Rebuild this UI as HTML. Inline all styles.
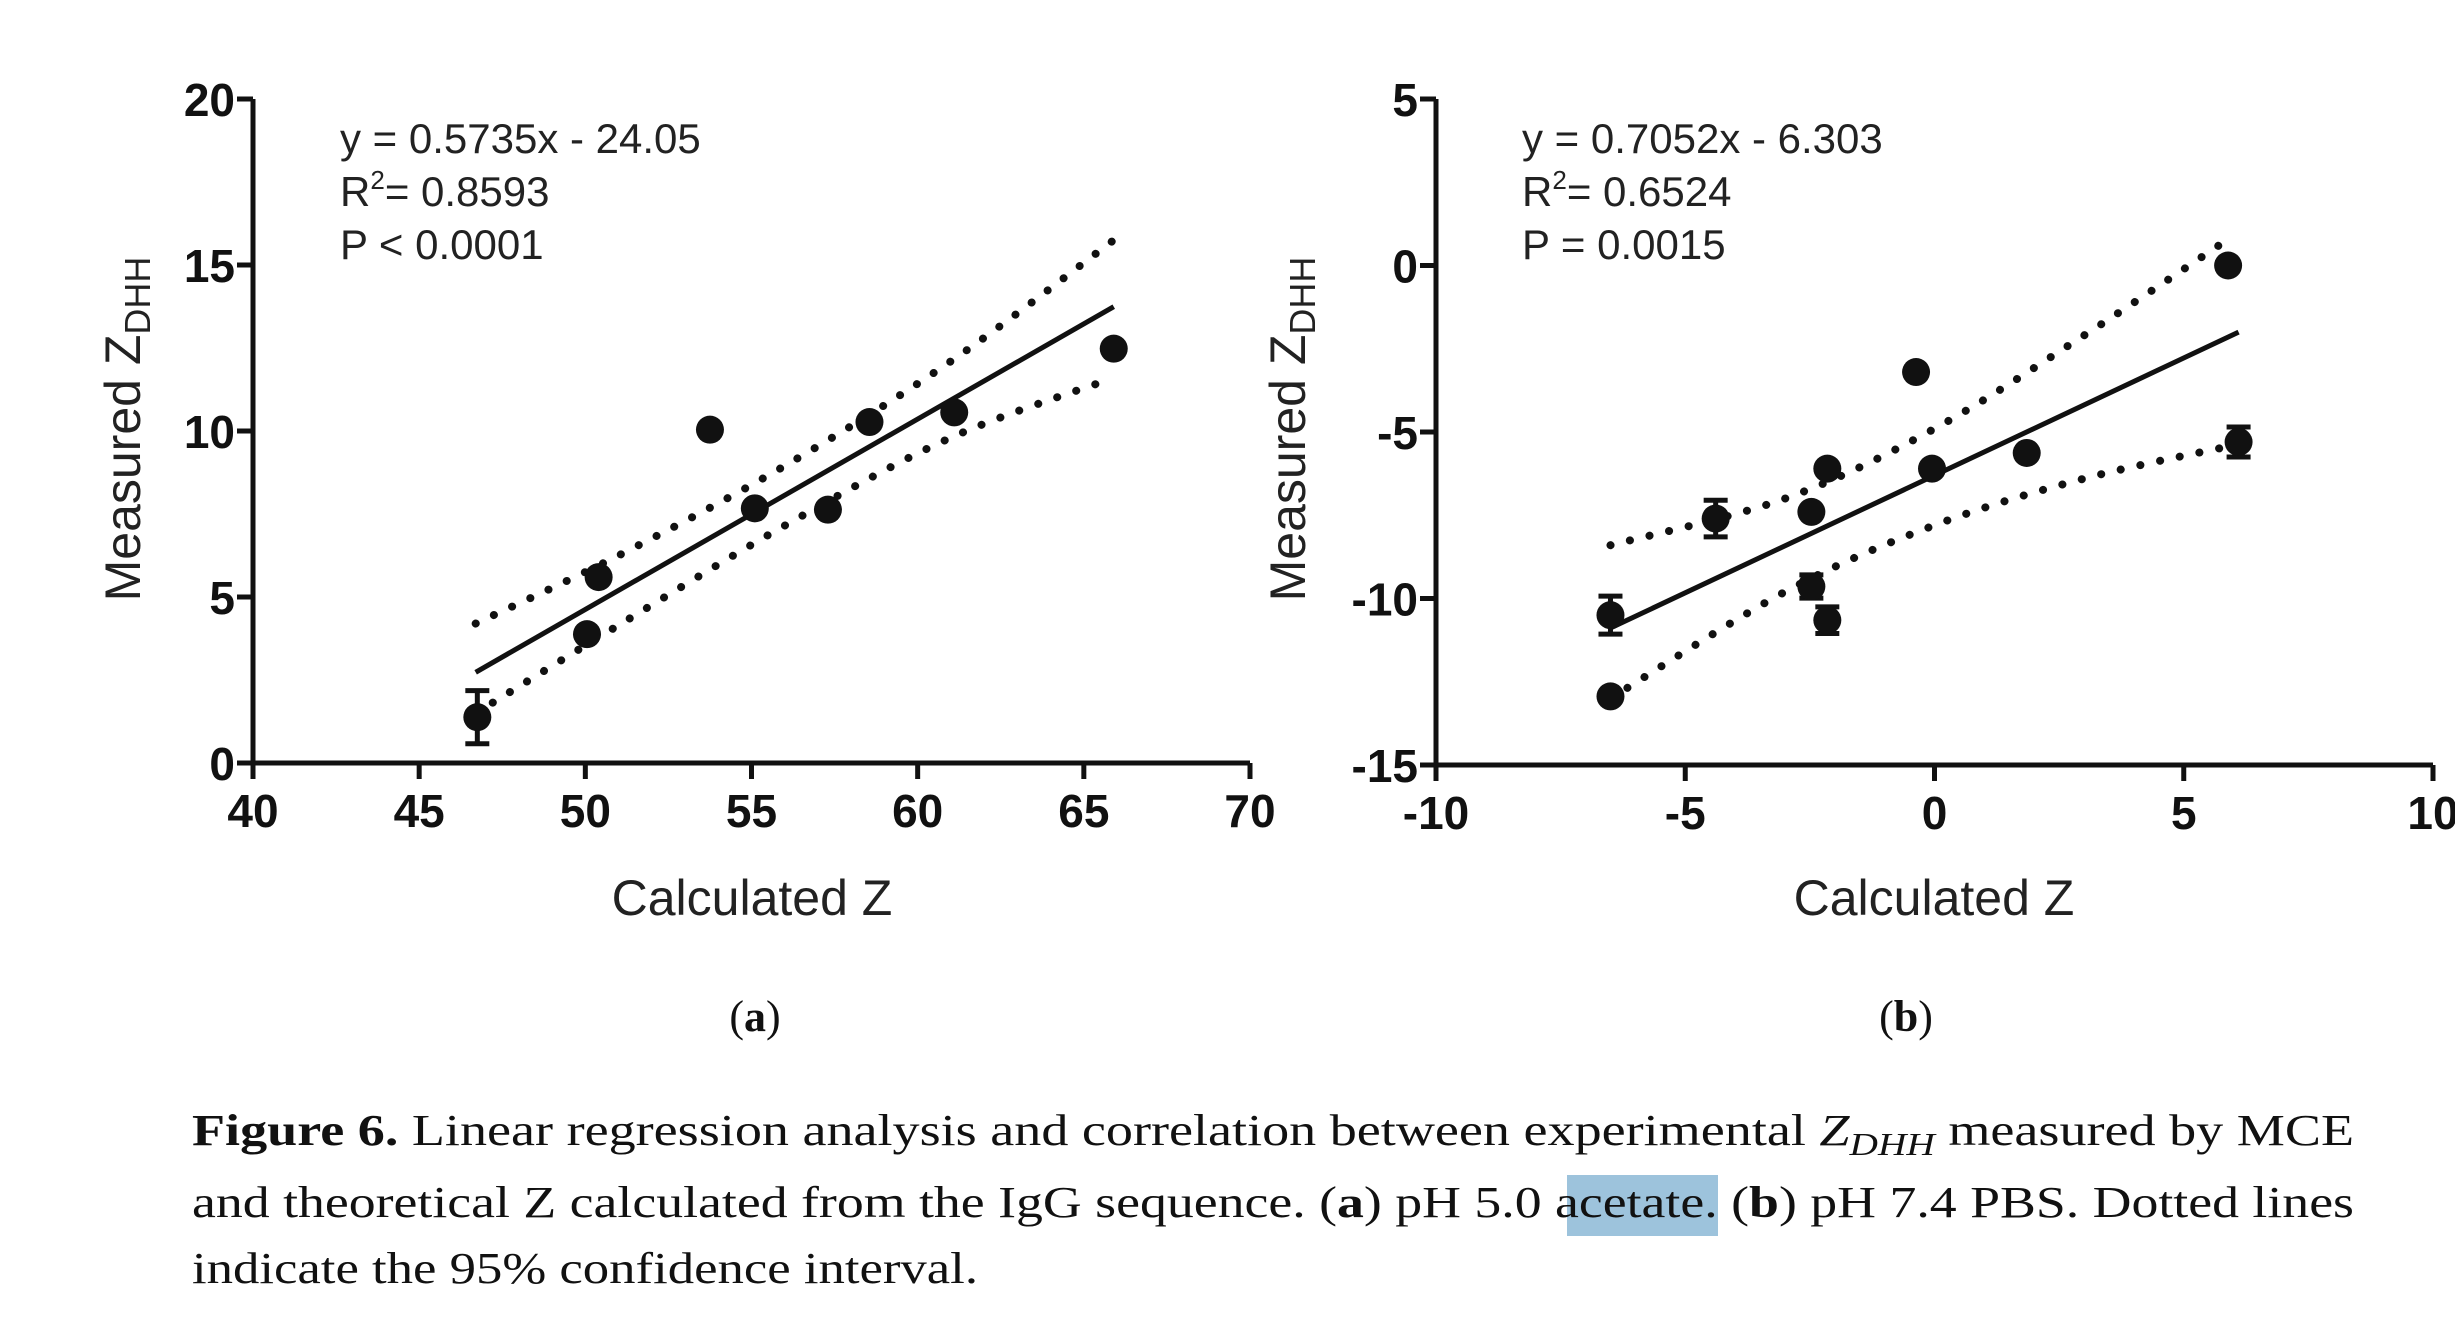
<!DOCTYPE html>
<html><head><meta charset="utf-8"><style>
html,body{margin:0;padding:0;background:#fff;}
svg{display:block;}
</style></head><body>
<svg id="fig" width="2455" height="1321" viewBox="0 0 2455 1321" xmlns="http://www.w3.org/2000/svg">
<g id="chartA"></g>
<g id="chartB"></g>
<g font-family="'Liberation Serif', serif" font-size="44" fill="#111">
  <text x="755" y="1031" text-anchor="middle">(<tspan font-weight="bold">a</tspan>)</text>
  <text x="1906" y="1031" text-anchor="middle">(<tspan font-weight="bold">b</tspan>)</text>
  <rect x="1567" y="1175" width="151" height="61" fill="#9dc3dc"/>
  <text x="192" y="1145" textLength="2162" lengthAdjust="spacingAndGlyphs"><tspan font-weight="bold">Figure 6.</tspan> Linear regression analysis and correlation between experimental <tspan font-style="italic">Z</tspan><tspan font-style="italic" font-size="32" dy="10">DHH</tspan><tspan dy="-10"> measured by MCE</tspan></text>
  <text x="192" y="1217" textLength="2162" lengthAdjust="spacingAndGlyphs">and theoretical Z calculated from the IgG sequence. (<tspan font-weight="bold">a</tspan>) pH 5.0 acetate. (<tspan font-weight="bold">b</tspan>) pH 7.4 PBS. Dotted lines</text>
  <text x="192" y="1283" textLength="786" lengthAdjust="spacingAndGlyphs">indicate the 95% confidence interval.</text>
</g>
</svg>
<script>
// ---- Chart A data ----
const aX = [46.75, 50.05, 50.4, 53.75, 55.1, 57.3, 58.55, 61.1, 65.9];
const aY = [1.38, 3.88, 5.6, 10.04, 7.67, 7.63, 10.27, 10.56, 12.48];
const aErr = [0.8, 0, 0, 0, 0, 0, 0, 0, 0];
const aFit = [0.5735, -24.05];
const aFitRange = [46.7, 65.9];
const aBandX = [46.7, 51, 56, 61, 65.9];
const aBandUpper = [4.2, 6.25, 8.95, 12.1, 15.75];
const aBandLower = [1.5, 4.15, 7.15, 9.8, 11.6];
const aXTicks = [40, 45, 50, 55, 60, 65, 70];
const aYTicks = [0, 5, 10, 15, 20];
const aStats = ["y = 0.5735x - 24.05", "= 0.8593", "P < 0.0001"];
// ---- Chart B data ----
const bX = [-6.5, -6.5, -4.39, -2.47, -2.47, -2.15, -2.15, -0.37, -0.05, 1.85, 5.89, 6.1];
const bY = [-10.5, -12.94, -7.6, -7.4, -9.64, -6.1, -10.65, -3.2, -6.1, -5.63, 0, -5.3];
const bErr = [0.57, 0, 0.55, 0, 0.35, 0, 0.4, 0, 0, 0, 0, 0.45];
const bFit = [0.7052, -6.303];
const bFitRange = [-6.5, 6.1];
const bBandX = [-6.5, -3, 0, 3, 6];
const bBandUpper = [-8.4, -7.0, -4.9, -2.1, 0.9];
const bBandLower = [-13.0, -9.8, -7.8, -6.4, -5.4];
const bXTicks = [-10, -5, 0, 5, 10];
const bYTicks = [-15, -10, -5, 0, 5];
const bStats = ["y = 0.7052x - 6.303", "= 0.6524", "P = 0.0015"];

const NS = "http://www.w3.org/2000/svg";
function mk(parent, tag, attrs) {
  const e = document.createElementNS(NS, tag);
  for (const k in attrs) e.setAttribute(k, attrs[k]);
  parent.appendChild(e);
  return e;
}
function smoothPath(pts) {
  let d = "M" + pts[0][0] + "," + pts[0][1];
  for (let i = 0; i < pts.length - 1; i++) {
    const p0 = pts[Math.max(0, i - 1)], p1 = pts[i], p2 = pts[i + 1], p3 = pts[Math.min(pts.length - 1, i + 2)];
    const c1 = [p1[0] + (p2[0] - p0[0]) / 6, p1[1] + (p2[1] - p0[1]) / 6];
    const c2 = [p2[0] - (p3[0] - p1[0]) / 6, p2[1] - (p3[1] - p1[1]) / 6];
    d += " C" + c1 + " " + c2 + " " + p2;
  }
  return d;
}
function drawChart(g, cfg) {
  const sx = v => cfg.x0 + (v - cfg.xMin) / (cfg.xMax - cfg.xMin) * (cfg.x1 - cfg.x0);
  const sy = v => cfg.y0 - (v - cfg.yMin) / (cfg.yMax - cfg.yMin) * (cfg.y0 - cfg.y1);
  const ax = mk(g, "path", {d: `M${cfg.x0},${cfg.y1} V${cfg.y0} H${cfg.x1}`, fill: "none", stroke: "#111", "stroke-width": 5});
  
  
  cfg.xTicks.forEach(t => {
    const l = mk(g, "line", {x1: sx(t), x2: sx(t), y1: cfg.y0, y2: cfg.y0 + 16, stroke: "#111", "stroke-width": 5});
    
    
    const tx = mk(g, "text", {x: sx(t), y: cfg.y0 + 64, "text-anchor": "middle", "font-family": "'Liberation Sans', sans-serif", "font-weight": "bold", "font-size": 46, fill: "#111"});
    tx.textContent = t;
    
    
  });
  cfg.yTicks.forEach(t => {
    const l = mk(g, "line", {x1: cfg.x0 - 16, x2: cfg.x0, y1: sy(t), y2: sy(t), stroke: "#111", "stroke-width": 5});
    
    
    const tx = mk(g, "text", {x: cfg.x0 - 18, y: sy(t) + 17, "text-anchor": "end", "font-family": "'Liberation Sans', sans-serif", "font-weight": "bold", "font-size": 46, fill: "#111"});
    tx.textContent = t;
    
    
  });
  const xt = mk(g, "text", {x: cfg.xTitleX, y: 915, "text-anchor": "middle", "font-family": "'Liberation Sans', sans-serif", "font-size": 50, fill: "#222"});
  xt.textContent = "Calculated Z";
  
  
  const yt = mk(g, "text", {x: 0, y: 0, transform: `translate(${cfg.yTitleX + 17},429) rotate(-90)`, "text-anchor": "middle", "font-family": "'Liberation Sans', sans-serif", "font-size": 50, fill: "#222"});
  yt.innerHTML = 'Measured Z<tspan font-size="36" dy="10">DHH</tspan>';
  
  
  const st = mk(g, "text", {x: cfg.statX, y: 153, "font-family": "'Liberation Sans', sans-serif", "font-size": 42, fill: "#222"});
  st.textContent = cfg.stats[0];
  
  
  const st2 = mk(g, "text", {x: cfg.statX, y: 206, "font-family": "'Liberation Sans', sans-serif", "font-size": 42, fill: "#222"});
  st2.innerHTML = 'R<tspan font-size="26" dy="-17">2</tspan><tspan dy="17">= ' + cfg.stats[1].replace('= ', '') + '</tspan>';
  
  
  const st3 = mk(g, "text", {x: cfg.statX, y: 259, "font-family": "'Liberation Sans', sans-serif", "font-size": 42, fill: "#222"});
  st3.textContent = cfg.stats[2];
  
  
  [cfg.bandU, cfg.bandL].forEach((band, i) => {
    const pts = cfg.bandX.map((x, j) => [sx(x), sy(band[j])]);
    const p = mk(g, "path", {d: smoothPath(pts), fill: "none", stroke: "#111", "stroke-width": 8, "stroke-linecap": "round", "stroke-dasharray": "0.1 20"});
    
    
  });
  const fl = mk(g, "line", {x1: sx(cfg.fitR[0]), y1: sy(cfg.fit[0] * cfg.fitR[0] + cfg.fit[1]), x2: sx(cfg.fitR[1]), y2: sy(cfg.fit[0] * cfg.fitR[1] + cfg.fit[1]), stroke: "#111", "stroke-width": 5});
  
  
  cfg.xs.forEach((x, i) => {
    const e = cfg.err[i];
    if (e > 0) {
      const eb = mk(g, "path", {d: `M${sx(x)},${sy(cfg.ys[i] - e)} V${sy(cfg.ys[i] + e)} M${sx(x) - 12},${sy(cfg.ys[i] - e)} h24 M${sx(x) - 12},${sy(cfg.ys[i] + e)} h24`, stroke: "#111", "stroke-width": 5, fill: "none"});
      
      
    }
    const c = mk(g, "circle", {cx: sx(x), cy: sy(cfg.ys[i]), r: 14, fill: "#111"});
    
    
  });
}
drawChart(document.getElementById("chartA"), {
  x0: 253, x1: 1250, y0: 763, y1: 99, xMin: 40, xMax: 70, yMin: 0, yMax: 20,
  xTicks: aXTicks, yTicks: aYTicks, xs: aX, ys: aY, err: aErr, fit: aFit, fitR: aFitRange,
  bandX: aBandX, bandU: aBandUpper, bandL: aBandLower, stats: aStats, statX: 340, xTitleX: 752, yTitleX: 123
});
drawChart(document.getElementById("chartB"), {
  x0: 1436, x1: 2433, y0: 765, y1: 99, xMin: -10, xMax: 10, yMin: -15, yMax: 5,
  xTicks: bXTicks, yTicks: bYTicks, xs: bX, ys: bY, err: bErr, fit: bFit, fitR: bFitRange,
  bandX: bBandX, bandU: bBandUpper, bandL: bBandLower, stats: bStats, statX: 1522, xTitleX: 1934, yTitleX: 1288
});
</script>
</body></html>
